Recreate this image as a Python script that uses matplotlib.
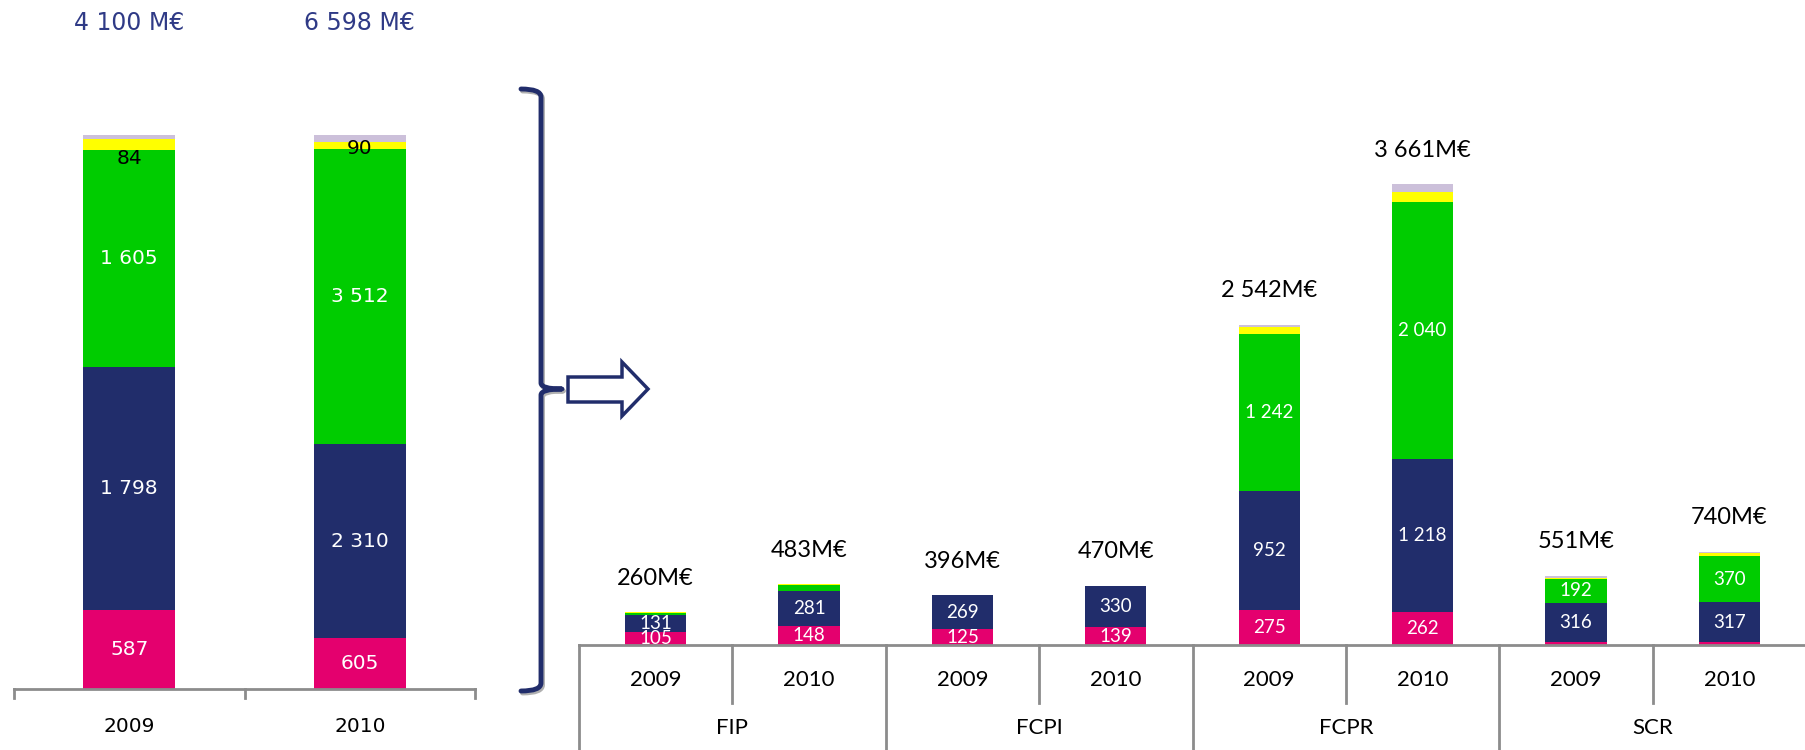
import matplotlib.pyplot as plt
import numpy as np
from matplotlib.lines import Line2D
from matplotlib.patches import Polygon, PathPatch
from matplotlib.path import Path
import matplotlib.transforms as mtransforms

# Left chart: whole market, 100% stacked
left_years = ["2009", "2010"]
left_totals = [4100, 6598]
left_pink = [587, 605]
left_navy = [1798, 2310]
left_green = [1605, 3512]
left_yellow = [84, 90]
left_lavender = [26, 81]

# Right chart: by vehicle type, values in M€
groups = ["FIP", "FCPI", "FCPR", "SCR"]
years = ["2009", "2010"]
right_totals = [260, 483, 396, 470, 2542, 3661, 551, 740]
right_pink = [105, 148, 125, 139, 275, 262, 20, 22]
right_navy = [131, 281, 269, 330, 952, 1218, 316, 317]
right_green = [22, 50, 1, 1, 1242, 2040, 192, 370]
right_yellow = [1, 2, 0, 0, 60, 75, 8, 19]
right_lavender = [1, 2, 1, 0, 13, 66, 15, 12]

PINK = "#e4006e"
NAVY = "#212d6b"
GREEN = "#00cc00"
YELLOW = "#ffff00"
LAVENDER = "#ccc0da"
GRAY = "#8c8c8c"
TITLE_NAVY = "#2f3a86"

W, H = 1806, 750
fig = plt.figure(figsize=(W / 100, H / 100), dpi=100)


def fx(x):
    return x / W


def fy(y):
    return 1 - y / H


def fr(value):
    # french thousands separator
    return f"{value:,}".replace(",", " ")


# ---------------- left chart ----------------
axl = fig.add_axes([fx(14), fy(689), fx(461), 554 / H])
xl = np.arange(len(left_years))
left_series = [left_pink, left_navy, left_green, left_yellow, left_lavender]
left_colors = [PINK, NAVY, GREEN, YELLOW, LAVENDER]
totals = np.array(left_totals, dtype=float)
bottom = np.zeros(len(xl))
left_bars = []
for vals, col in zip(left_series, left_colors):
    share = np.array(vals) / totals
    bars = axl.bar(xl, share, 0.4, bottom=bottom, color=col, linewidth=0)
    left_bars.append((bars, vals))
    bottom += share

for bars, vals in left_bars[:3]:
    for b, v in zip(bars, vals):
        axl.text(b.get_x() + b.get_width() / 2, b.get_y() + b.get_height() / 2,
                 fr(v), ha="center", va="center", color="white", fontsize=14.5)

yellow_offsets = [-14, -3]
bars, vals = left_bars[3]
for b, v, off in zip(bars, vals, yellow_offsets):
    axl.annotate(fr(v), (b.get_x() + b.get_width() / 2, b.get_y() + b.get_height() / 2),
                 xytext=(0, off), textcoords="offset pixels",
                 ha="center", va="center", color="black", fontsize=14.5)

for i, t in enumerate(left_totals):
    axl.text(i, 1.202, f"{fr(t)} M€", transform=axl.get_xaxis_transform(),
             ha="center", va="center", color=TITLE_NAVY, fontsize=17)

axl.set_xlim(-0.5, 1.5)
axl.set_ylim(0, 1)
for s in axl.spines.values():
    s.set_visible(False)
axl.spines["bottom"].set_visible(True)
axl.spines["bottom"].set_color(GRAY)
axl.spines["bottom"].set_linewidth(2)
axl.set_xticks([])
axl.set_yticks([])

tl = mtransforms.blended_transform_factory(axl.transData, fig.transFigure)
for x in [-0.5, 0.5, 1.5]:
    fig.add_artist(Line2D([x, x], [fy(689), fy(698)], transform=tl, color=GRAY, lw=2))
for i, y in enumerate(left_years):
    fig.text(i, fy(727), y, transform=tl, ha="center", va="center", fontsize=14.5)

# ---------------- right chart ----------------
axr = fig.add_axes([fx(579), fy(645), fx(1227), 4000 * 0.1259 / H])
xr = np.arange(len(right_totals))
right_series = [right_pink, right_navy, right_green, right_yellow, right_lavender]
bottom = np.zeros(len(xr))
right_bars = []
for vals, col in zip(right_series, left_colors):
    bars = axr.bar(xr, vals, 0.4, bottom=bottom, color=col, linewidth=0)
    right_bars.append((bars, vals))
    bottom += np.array(vals)

for bars, vals in right_bars[:3]:
    for b, v in zip(bars, vals):
        if v >= 100:
            axr.text(b.get_x() + b.get_width() / 2, b.get_y() + b.get_height() / 2,
                     fr(v), ha="center", va="center", color="white",
                     fontsize=13.5, family="Lato")

for i, t in enumerate(right_totals):
    axr.annotate(f"{fr(t)}M€", (i, t), xytext=(0, 34), textcoords="offset pixels",
                 ha="center", va="center", fontsize=17, family="Lato")

axr.set_xlim(-0.5, len(xr) - 0.5)
axr.set_ylim(0, 4000)
for s in axr.spines.values():
    s.set_visible(False)
axr.spines["bottom"].set_visible(True)
axr.spines["bottom"].set_color(GRAY)
axr.spines["bottom"].set_linewidth(2)
axr.set_xticks([])
axr.set_yticks([])

tr = mtransforms.blended_transform_factory(axr.transData, fig.transFigure)
for k in range(len(xr) + 1):
    x = k - 0.5
    low = fy(750) if k % 2 == 0 else fy(703)
    fig.add_artist(Line2D([x, x], [fy(645), low], transform=tr, color=GRAY, lw=2))
for i in xr:
    fig.text(i, fy(680), years[i % 2], transform=tr, ha="center", va="center",
             fontsize=16, family="Lato")
for g, name in enumerate(groups):
    fig.text(2 * g + 0.5, fy(728), name, transform=tr, ha="center", va="center",
             fontsize=16, family="Lato")

# ---------------- bracket and arrow ----------------
def bracket(dx, dy, color, lw, z):
    pts = [(521, 89), (541, 89), (541, 97), (541, 383), (541, 389), (562, 389),
           (541, 389), (541, 395), (541, 683), (541, 691), (521, 691)]
    codes = [Path.MOVETO, Path.CURVE3, Path.CURVE3, Path.LINETO, Path.CURVE3,
             Path.CURVE3, Path.CURVE3, Path.CURVE3, Path.LINETO, Path.CURVE3, Path.CURVE3]
    verts = [(fx(x + dx), fy(y + dy)) for x, y in pts]
    fig.add_artist(PathPatch(Path(verts, codes), transform=fig.transFigure,
                             fill=False, edgecolor=color, lw=lw, zorder=z,
                             capstyle="round", joinstyle="round"))


bracket(1.5, 2, "#b0b0b0", 3.5, 1)
bracket(0, 0, NAVY, 3.5, 2)

arrow_pts = [(568, 377), (622, 377), (622, 362), (648, 389), (622, 416), (622, 402), (568, 402)]
fig.add_artist(Polygon([(fx(x), fy(y)) for x, y in arrow_pts], closed=True,
                       transform=fig.transFigure, facecolor="white",
                       edgecolor=NAVY, lw=2.5, joinstyle="miter"))

fig.savefig("out.png", dpi=100)
